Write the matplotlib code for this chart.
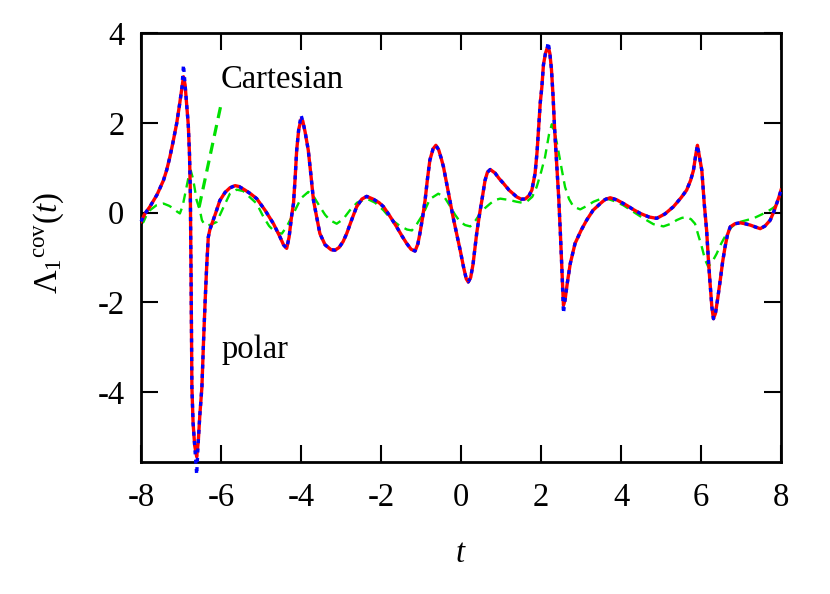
import matplotlib
matplotlib.use('Agg')
import matplotlib.pyplot as plt
import numpy as np

# ---------------- datos ----------------
# curva polar (roja continua, azul punteada encima)
t_polar = [-8.00, -7.90, -7.78, -7.60, -7.44, -7.36, -7.28, -7.20, -7.11, -7.04,
           -6.98, -6.94, -6.90, -6.86, -6.82, -6.79, -6.77, -6.76, -6.75, -6.74,
           -6.73, -6.70, -6.66, -6.61, -6.57, -6.53, -6.48, -6.44, -6.40, -6.36,
           -6.32, -6.28, -6.15, -6.03, -5.90, -5.78, -5.65, -5.55, -5.40, -5.25,
           -5.11, -4.90, -4.69, -4.53, -4.44, -4.36, -4.30, -4.24, -4.19, -4.15,
           -4.11, -4.06, -4.00, -3.96, -3.90, -3.82, -3.75, -3.69, -3.60, -3.53,
           -3.40, -3.25, -3.15, -3.05, -2.95, -2.86, -2.73, -2.61, -2.48, -2.36,
           -2.20, -2.05, -1.94, -1.78, -1.61, -1.48, -1.36, -1.25, -1.15, -1.08,
           -1.03, -0.96, -0.90, -0.84, -0.78, -0.70, -0.63, -0.56, -0.50, -0.44,
           -0.36, -0.28, -0.20, -0.11, -0.02, 0.06, 0.13, 0.18, 0.24, 0.30,
           0.39, 0.46, 0.52, 0.60, 0.66, 0.73, 0.85, 0.95, 1.06, 1.20,
           1.39, 1.50, 1.60, 1.70, 1.77, 1.85, 1.90, 1.93, 1.98, 2.02,
           2.06, 2.11, 2.15, 2.18, 2.22, 2.26, 2.30, 2.34, 2.39, 2.44,
           2.48, 2.52, 2.56, 2.60, 2.66, 2.73, 2.85, 3.00, 3.14, 3.30,
           3.48, 3.60, 3.73, 3.90, 4.14, 4.30, 4.48, 4.70, 4.89, 5.10,
           5.31, 5.50, 5.64, 5.74, 5.81, 5.87, 5.91, 5.95, 6.02, 6.08,
           6.14, 6.18, 6.22, 6.27, 6.31, 6.36, 6.42, 6.48, 6.54, 6.60,
           6.66, 6.73, 6.85, 6.98, 7.10, 7.23, 7.35, 7.48, 7.60, 7.73,
           7.82, 7.89, 7.95, 8.00]
lam_polar = [-0.20, -0.02, 0.13, 0.40, 0.72, 0.95, 1.24, 1.58, 1.99, 2.40,
             2.78, 3.03, 2.85, 2.40, 1.95, 1.30, 0.50, -0.40, -1.50, -2.70,
             -3.90, -4.70, -5.20, -5.45, -5.10, -4.50, -3.90, -2.90, -2.00, -1.20,
             -0.55, -0.38, -0.05, 0.27, 0.45, 0.55, 0.60, 0.58, 0.50, 0.41,
             0.31, 0.05, -0.25, -0.54, -0.72, -0.80, -0.55, -0.10, 0.20, 0.75,
             1.39, 1.85, 2.08, 2.05, 1.80, 1.39, 0.80, 0.27, -0.15, -0.47,
             -0.72, -0.83, -0.84, -0.78, -0.65, -0.47, -0.15, 0.13, 0.30, 0.36,
             0.30, 0.22, 0.13, -0.08, -0.32, -0.52, -0.69, -0.82, -0.86, -0.70,
             -0.47, -0.10, 0.27, 0.75, 1.17, 1.42, 1.50, 1.40, 1.22, 1.02,
             0.65, 0.27, -0.10, -0.47, -0.85, -1.21, -1.48, -1.55, -1.45, -1.15,
             -0.47, -0.05, 0.27, 0.72, 0.90, 0.96, 0.88, 0.76, 0.65, 0.50,
             0.35, 0.30, 0.30, 0.38, 0.50, 0.87, 1.35, 1.76, 2.45, 2.80,
             3.30, 3.55, 3.66, 3.70, 3.55, 3.20, 2.60, 1.85, 1.09, 0.35,
             -0.40, -1.25, -2.07, -1.95, -1.55, -1.14, -0.69, -0.40, -0.17, 0.05,
             0.20, 0.29, 0.33, 0.28, 0.16, 0.07, -0.02, -0.10, -0.13, -0.03,
             0.13, 0.33, 0.50, 0.72, 0.94, 1.30, 1.50, 1.30, 0.94, 0.20,
             -0.40, -1.00, -1.51, -2.10, -2.37, -2.25, -1.90, -1.51, -1.10, -0.77,
             -0.50, -0.32, -0.25, -0.23, -0.25, -0.28, -0.32, -0.36, -0.30, -0.17,
             0.02, 0.20, 0.35, 0.50]
# la punteada azul se pasa un poco en los picos
puntas_azul = {-6.94: 3.30, -6.61: -5.85, -4.00: 2.17, 2.18: 3.80, 2.56: -2.25}

# curva cartesiana (verde discontinua)
t_cart = [-8.00, -7.94, -7.86, -7.78, -7.62, -7.44, -7.30, -7.19, -7.10, -7.03,
          -6.96, -6.88, -6.80, -6.76, -6.70, -6.61, -6.53, -6.48, -6.42, -6.36,
          -6.25, -6.11, -5.95, -5.78, -5.61, -5.45, -5.28, -5.11, -4.94, -4.80,
          -4.69, -4.55, -4.48, -4.35, -4.19, -4.00, -3.82, -3.68, -3.53, -3.40,
          -3.28, -3.11, -2.95, -2.78, -2.60, -2.36, -2.15, -1.94, -1.75, -1.53,
          -1.35, -1.23, -1.10, -0.94, -0.78, -0.57, -0.42, -0.28, -0.15, -0.03,
          0.10, 0.23, 0.36, 0.48, 0.60, 0.73, 0.85, 0.98, 1.20, 1.39,
          1.52, 1.64, 1.78, 1.89, 2.00, 2.10, 2.20, 2.27, 2.35, 2.43,
          2.52, 2.60, 2.70, 2.81, 2.98, 3.15, 3.31, 3.48, 3.64, 3.85,
          4.06, 4.30, 4.56, 4.81, 5.06, 5.25, 5.39, 5.52, 5.64, 5.75,
          5.85, 5.93, 6.02, 6.10, 6.18, 6.28, 6.39, 6.50, 6.64, 6.76,
          6.89, 7.10, 7.31, 7.50, 7.64, 7.80, 7.93, 8.00]
lam_cart = [-0.25, -0.21, -0.05, 0.05, 0.16, 0.20, 0.15, 0.09, 0.02, -0.02,
            0.15, 0.50, 0.85, 0.94, 0.75, 0.27, 0.05, -0.17, -0.26, -0.29,
            -0.27, -0.21, 0.10, 0.42, 0.51, 0.48, 0.34, 0.20, -0.10, -0.30,
            -0.40, -0.46, -0.47, -0.30, -0.02, 0.32, 0.46, 0.35, 0.13, -0.05,
            -0.17, -0.25, -0.15, 0.05, 0.22, 0.31, 0.22, 0.05, -0.15, -0.30,
            -0.38, -0.40, -0.25, -0.02, 0.30, 0.42, 0.35, 0.15, -0.05, -0.20,
            -0.28, -0.31, -0.18, -0.02, 0.10, 0.20, 0.28, 0.31, 0.28, 0.24,
            0.22, 0.24, 0.35, 0.57, 0.90, 1.24, 1.75, 1.97, 1.75, 1.39,
            0.95, 0.57, 0.30, 0.13, 0.07, 0.15, 0.24, 0.30, 0.31, 0.25,
            0.16, 0.02, -0.13, -0.26, -0.31, -0.25, -0.17, -0.12, -0.10, -0.15,
            -0.25, -0.50, -0.77, -1.05, -1.21, -1.10, -0.92, -0.70, -0.47, -0.33,
            -0.23, -0.18, -0.13, -0.05, 0.01, 0.10, 0.20, 0.25]

# linea que apunta a la etiqueta "Cartesian"
flecha_x = [-6.55, -5.98]
flecha_y = [0.12, 2.50]

xticks = [-8, -6, -4, -2, 0, 2, 4, 6, 8]
yticks = [-4, -2, 0, 2, 4]

# ---------------- estilo ----------------
plt.rcParams['font.family'] = 'Liberation Serif'
plt.rcParams['mathtext.fontset'] = 'custom'
plt.rcParams['mathtext.rm'] = 'Liberation Serif'
plt.rcParams['mathtext.it'] = 'Liberation Serif:italic'
fs = 23.5

fig = plt.figure(figsize=(8.3, 5.94), dpi=100)
ax = fig.add_axes([0.170, 0.222, 0.771, 0.722])

lam_azul = list(lam_polar)
for tt, vv in puntas_azul.items():
    lam_azul[t_polar.index(tt)] = vv

ax.plot(t_polar, lam_polar, color='#ff0000', lw=2.4, zorder=3)
ax.plot(t_polar, lam_azul, color='#0000ff', lw=2.4, ls=(0, (1.2, 1.6)),
        dash_capstyle='butt', zorder=4, clip_on=False)
ax.plot(t_cart, lam_cart, color='#00e000', lw=1.7, ls=(0, (4, 2.6)), zorder=2)
ax.plot(flecha_x, flecha_y, color='#00e000', lw=2.3, ls=(0, (3.5, 2.2)), zorder=2)

ax.text(-6.0, 2.77, 'Cartesian', fontsize=fs, va='baseline', ha='left')
ax.text(-6.0, -3.25, 'polar', fontsize=fs, va='baseline', ha='left')

ax.set_xlim(-8, 8)
ax.set_ylim(-5.57, 4)
ax.set_xticks(xticks)
ax.set_yticks(yticks)
ax.set_xticklabels([str(v) for v in xticks])
ax.set_yticklabels([str(v) for v in yticks])
ax.tick_params(axis='both', direction='in', length=12, width=1.5, top=True, right=True,
               labelsize=fs)
ax.tick_params(axis='x', pad=15)
ax.tick_params(axis='y', pad=12)
for s in ax.spines.values():
    s.set_linewidth(2)

ax.set_xlabel('$t$', fontsize=fs)
ax.xaxis.set_label_coords(0.5, -0.178)
ax.set_ylabel(r'$\mathrm{\Lambda}_1{}^{\mathrm{cov}}(t)$', fontsize=fs)
ax.yaxis.set_label_coords(-0.118, 0.51)

fig.savefig('out.png', dpi=100)
